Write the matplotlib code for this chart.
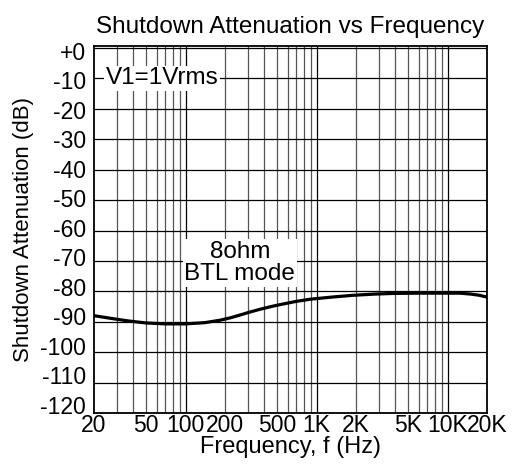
import numpy as np
import matplotlib.pyplot as plt
from matplotlib.ticker import FixedLocator, NullFormatter
from matplotlib.transforms import ScaledTranslation

plt.rcParams['font.family'] = ['Liberation Sans', 'DejaVu Sans']

# curve
freq = [20, 28, 36, 50, 70, 100, 140, 183, 220, 260, 310, 370, 450, 550, 700, 891, 1300, 1900, 2800, 3800, 6000, 9000, 12400, 15000, 17500, 20000]
atten = [-88.0, -89.0, -89.7, -90.4, -90.7, -90.7, -90.3, -89.5, -88.7, -87.8, -86.8, -85.9, -85.0, -84.2, -83.3, -82.6, -81.9, -81.3, -80.9, -80.7, -80.6, -80.6, -80.6, -80.9, -81.3, -81.9]

xtick_vals = [20, 50, 100, 200, 500, 1000, 2000, 5000, 10000, 20000]
xtick_labels = ['20', '50', '100', '200', '500', '1K', '2K', '5K', '10K', '20K']
ytick_vals = list(range(0, -130, -10))
ytick_labels = ['+0'] + [str(v) for v in ytick_vals[1:]]

fig = plt.figure(figsize=(5.13, 4.69), dpi=100)
ax = fig.add_axes([94 / 513, 1 - 413 / 469, 393 / 513, 367 / 469])

ax.set_xscale('log')
ax.set_xlim(20, 20000)
ax.set_ylim(-120, 0.66)

# grid lines
minor = []
for dec in [10, 100, 1000, 10000]:
    for m in range(2, 10):
        f = dec * m
        if 20 < f < 20000:
            minor.append(f)
for f in minor:
    ax.axvline(f, color='#555555', lw=0.9, zorder=1)
for f in [100, 1000, 10000]:
    ax.axvline(f, color='black', lw=0.9, zorder=1)
for v in ytick_vals:
    ax.axhline(v, color='black', lw=0.9, zorder=1)

ax.plot(freq, atten, color='black', lw=2.3, zorder=3, solid_capstyle='butt')

ax.xaxis.set_major_locator(FixedLocator(xtick_vals))
ax.xaxis.set_minor_locator(FixedLocator([]))
ax.xaxis.set_minor_formatter(NullFormatter())
ax.set_xticklabels(xtick_labels)
ax.set_yticks(ytick_vals)
ax.set_yticklabels(ytick_labels)
ax.tick_params(length=0, labelsize=16.5)
ax.tick_params(axis='x', pad=1)
ax.tick_params(axis='y', pad=6)

# the printed y labels drift slightly upward compared to the grid
for k, lab in enumerate(ax.get_yticklabels()):
    off = (2.7 - 0.92 * k) / 100.0
    lab.set_transform(lab.get_transform() + ScaledTranslation(0, -off, fig.dpi_scale_trans))

for s in ax.spines.values():
    s.set_linewidth(1.3)

ax.set_title('Shutdown Attenuation vs Frequency', fontsize=17.5, pad=9)
ax.set_xlabel('Frequency, f (Hz)', fontsize=17, labelpad=-1)
ax.set_ylabel('Shutdown Attenuation (dB)', fontsize=16, labelpad=4)

ax.text(24.5, -10, 'V1=1Vrms', fontsize=17.5, va='center', ha='left', zorder=4,
        bbox=dict(facecolor='white', edgecolor='none', pad=1))
ax.text(260, -70.7, '8ohm\nBTL mode', fontsize=17.5, va='center', ha='center', zorder=4,
        linespacing=1.05, bbox=dict(facecolor='white', edgecolor='none', pad=1))

fig.savefig('out.png', dpi=100)
